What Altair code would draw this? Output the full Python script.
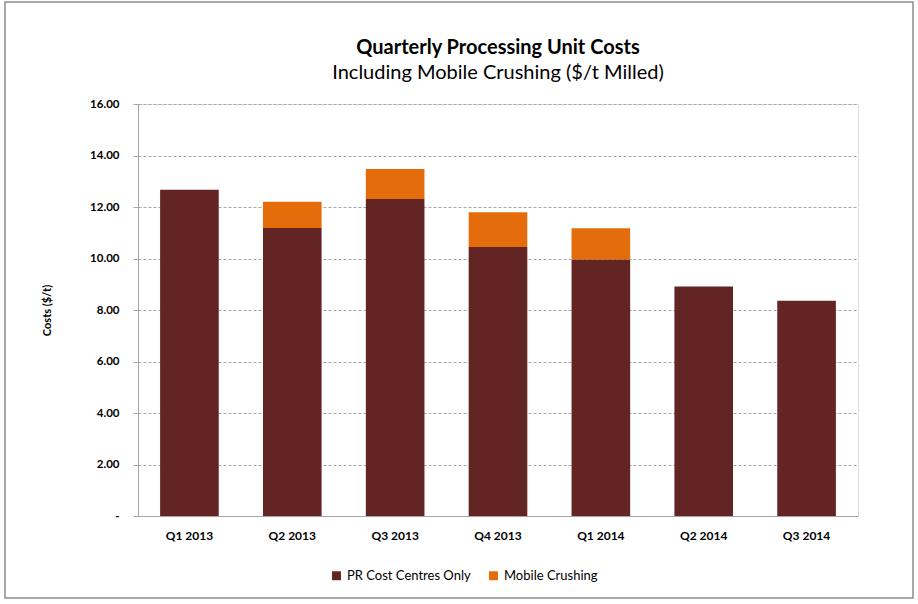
import altair as alt
import pandas as pd

quarters = ["Q1 2013", "Q2 2013", "Q3 2013", "Q4 2013", "Q1 2014", "Q2 2014", "Q3 2014"]
pr_cost = [12.67, 11.18, 12.31, 10.45, 9.96, 8.91, 8.36]
mobile = [0.0, 1.02, 1.17, 1.35, 1.21, 0.0, 0.0]
series = ["PR Cost Centres Only", "Mobile Crushing"]
colors = ["#632523", "#E46C0A"]

rows = []
for q, p, m in zip(quarters, pr_cost, mobile):
    rows.append({"quarter": q, "series": series[0], "value": p, "order": 0})
    rows.append({"quarter": q, "series": series[1], "value": m, "order": 1})
df = pd.DataFrame(rows)

FONT = "Lato"

bars = alt.Chart(df).mark_bar().encode(
    x=alt.X("quarter:N", sort=quarters,
            scale=alt.Scale(paddingInner=0.43, paddingOuter=0.215),
            axis=alt.Axis(title=None, labelAngle=0, labelFontWeight="bold",
                          labelFontSize=12, labelColor="#000000", labelPadding=14,
                          ticks=False, domainColor="#A6A6A6", labelFont=FONT)),
    y=alt.Y("value:Q", stack="zero",
            scale=alt.Scale(domain=[0, 16], nice=False),
            axis=alt.Axis(title="Costs ($/t)", values=[0, 2, 4, 6, 8, 10, 12, 14, 16],
                          labelExpr="datum.value == 0 ? '-' : format(datum.value, '.2f')",
                          labelFontWeight="bold", labelFontSize=11.5, labelColor="#000000",
                          labelPadding=14, tickSize=5, tickColor="#A6A6A6",
                          domainColor="#A6A6A6", gridColor="#A6A6A6", gridDash=[3, 2],
                          titleFontSize=11, titleFontWeight="bold", titlePadding=37,
                          titleColor="#000000", labelFont=FONT, titleFont=FONT)),
    color=alt.Color("series:N", scale=alt.Scale(domain=series, range=colors),
                    legend=alt.Legend(title=None, orient="none", direction="horizontal",
                                      legendX=192, legendY=465,
                                      symbolType="square", symbolSize=80,
                                      labelFontSize=13, labelFont=FONT, labelColor="#000000",
                                      columnPadding=16)),
    order=alt.Order("order:Q", sort="ascending"),
)

border_df = pd.DataFrame({"k": [0]})
border = alt.Chart(border_df).mark_rect(fill=None, stroke="#8C8C8C", strokeWidth=1.5).encode(
    x=alt.value(-133), x2=alt.value(775), y=alt.value(-102), y2=alt.value(494)
)

chart = alt.layer(bars, border).properties(
    width=720, height=412,
    title=alt.TitleParams(text="Quarterly Processing Unit Costs",
                          subtitle="Including Mobile Crushing ($/t Milled)",
                          fontSize=20, subtitleFontSize=20, font=FONT, subtitleFont=FONT,
                          fontWeight="bold", color="#000000", subtitleColor="#000000",
                          anchor="middle", offset=-82, subtitlePadding=5),
    autosize=alt.AutoSizeParams(type="none"),
    padding={"left": 138, "top": 104, "right": 60, "bottom": 88},
).configure_view(stroke=None).configure(background="white")

chart.save("out.html", embed_options={"renderer": "svg", "actions": False})
